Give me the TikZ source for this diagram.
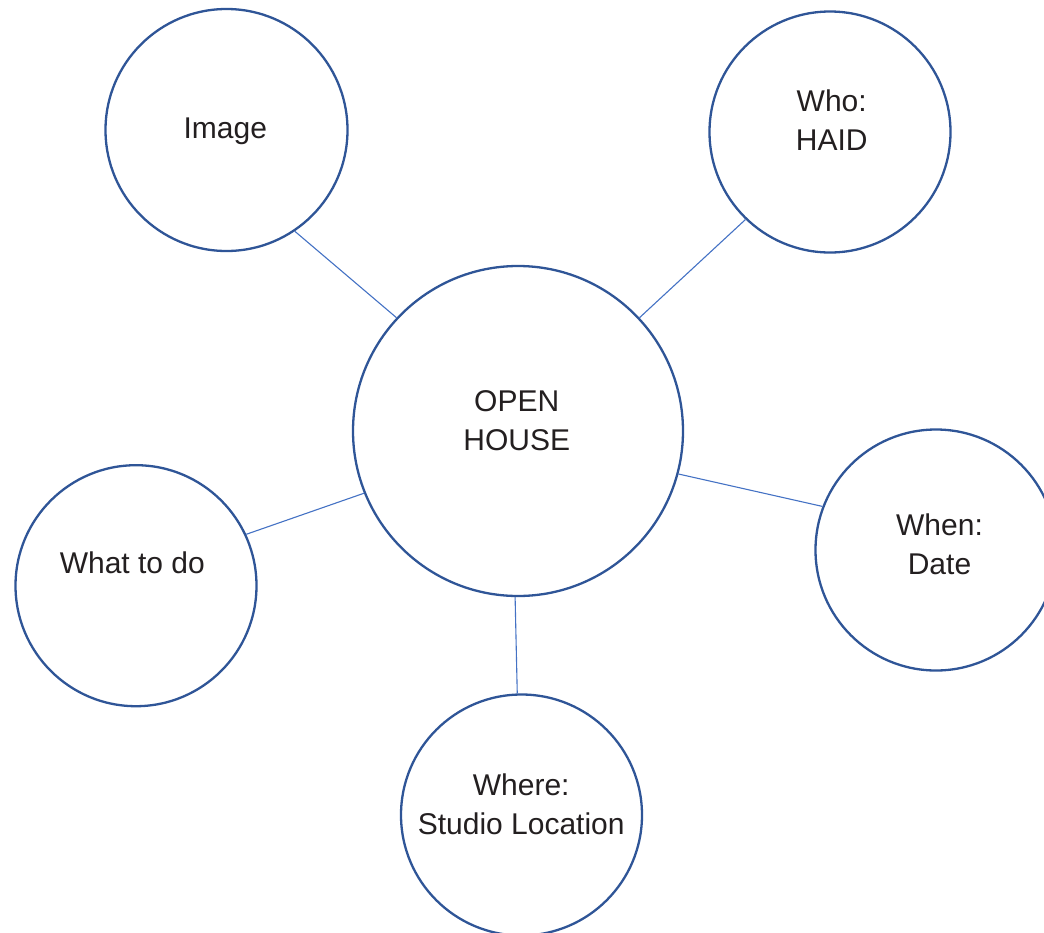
\documentclass[tikz,border=0pt]{standalone}
\usepackage{fontspec}
\setmainfont{Liberation Sans}
\definecolor{ringblue}{RGB}{47,85,151}
\definecolor{linkblue}{RGB}{68,114,196}
\definecolor{inkgrey}{RGB}{35,31,32}
\tikzset{
  ring/.style={circle,draw=ringblue,line width=2.3pt,fill=white,inner sep=0pt,minimum size=241pt},
  caption/.style={inner sep=0pt,align=center,text=inkgrey,text height=21.5pt,text depth=0pt,
    font=\fontsize{30}{39}\selectfont},
  twoline/.style={text height=60.5pt}
}
\begin{document}
\begin{tikzpicture}[x=1pt,y=-1pt]
      \clip (0,0) rectangle (1044,932);
      \node[ring,minimum size=330pt] (hub) at (518,431) {};
      \node[ring,minimum size=242pt] (image) at (226.5,130) {};
      \node[ring] (who) at (830,132) {};
      \node[ring] (when) at (936,550) {};
      \node[ring] (what) at (136,585.7) {};
      \node[ring] (where) at (521.5,815) {};
      \node[caption,twoline] (hubtext) at (516.7,420.5) {OPEN\\HOUSE};
      \node[caption] (imagetext) at (225.3,128) {Image};
      \node[caption,twoline] (whotext) at (831.7,120.3) {Who:\\HAID};
      \node[caption,twoline] (whentext) at (939.5,544.5) {When:\\Date};
      \node[caption] (whattext) at (132.3,562.5) {What to do};
      \node[caption,twoline] (wheretext) at (521.2,804.5) {Where:\\Studio Location};
      \begin{scope}[draw=linkblue,line width=1.1pt]
        \draw (hub.137) to (image.-56);
        \draw (hub.43.5) to (who.-134);
        \draw (hub.-15.4) to (when.159.3);
        \draw (hub.202.6) to (what.25.8);
        \draw (hub.269) to (where.92);
      \end{scope}
    \end{tikzpicture}
\end{document}
